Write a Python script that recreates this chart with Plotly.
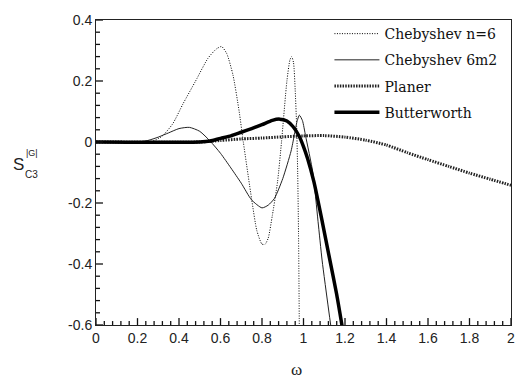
import plotly.graph_objects as go

# ---------------- data ----------------
cheb6_w = [0, 0.2, 0.27, 0.32, 0.37, 0.42, 0.48, 0.54, 0.58, 0.605, 0.63, 0.66, 0.69, 0.71,
           0.75, 0.775, 0.80, 0.815, 0.83, 0.85, 0.875, 0.894, 0.92, 0.935, 0.943, 0.952,
           0.96, 0.967, 0.972, 0.976, 0.98]
cheb6_v = [0, 0, 0.002, 0.02, 0.06, 0.126, 0.2, 0.275, 0.305, 0.313, 0.29, 0.22, 0.10, 0.0,
           -0.187, -0.29, -0.335, -0.335, -0.315, -0.24, -0.13, 0.0, 0.2, 0.27, 0.28, 0.26,
           0.17, 0.05, -0.1, -0.3, -0.62]

cheb6m2_w = [0, 0.2, 0.25, 0.3, 0.35, 0.4, 0.45, 0.5, 0.55, 0.6, 0.65, 0.7, 0.75, 0.8, 0.83,
             0.86, 0.9, 0.94, 0.955, 0.968, 0.98, 0.995, 1.01, 1.045, 1.07, 1.09, 1.135]
cheb6m2_v = [0, 0, 0.005, 0.016, 0.03, 0.044, 0.048, 0.035, 0.003, -0.037, -0.085, -0.135,
             -0.19, -0.216, -0.207, -0.185, -0.12, -0.03, 0.02, 0.065, 0.088, 0.07, 0.02,
             -0.1, -0.26, -0.39, -0.62]

planer_w = [0, 0.5, 0.6, 0.7, 0.8, 0.9, 1.0, 1.1, 1.2, 1.3, 1.4, 1.5, 1.6, 1.7, 1.8, 1.9, 2.0]
planer_v = [0, 0, 0.005, 0.01, 0.013, 0.017, 0.02, 0.021, 0.016, 0.006, -0.01, -0.035,
            -0.058, -0.08, -0.102, -0.122, -0.142]

butter_w = [0, 0.5, 0.55, 0.6, 0.65, 0.7, 0.75, 0.8, 0.85, 0.885, 0.92, 0.95, 0.98, 1.0,
            1.02, 1.05, 1.09, 1.125, 1.16, 1.19]
butter_v = [0, 0, 0.003, 0.012, 0.02, 0.032, 0.044, 0.057, 0.071, 0.075, 0.069, 0.05, 0.018,
            -0.015, -0.055, -0.13, -0.26, -0.38, -0.5, -0.62]

x_ticks = [0, 0.2, 0.4, 0.6, 0.8, 1, 1.2, 1.4, 1.6, 1.8, 2]
x_labels = ["0", "0.2", "0.4", "0.6", "0.8", "1", "1.2", "1.4", "1.6", "1.8", "2"]
y_ticks = [-0.6, -0.4, -0.2, 0, 0.2, 0.4]
y_labels = ["-0.6", "-0.4", "-0.2", "0", "0.2", "0.4"]
x_minor = [round(i * 0.04, 2) for i in range(51)]
y_minor = [round(-0.6 + i * 0.04, 2) for i in range(26)]

X_MIN, X_MAX = 0, 2
Y_MIN, Y_MAX = -0.6, 0.4

# ---------------- figure ----------------
W, H = 527, 383
L, R, T, B = 96, 15, 15, 58
PW, PH = W - L - R, H - T - B

fig = go.Figure()
fig.add_trace(go.Scatter(x=cheb6_w, y=cheb6_v, name="Chebyshev n=6", mode="lines",
                         line=dict(color="#000000", width=1, dash="1px,1.5px", shape="spline", smoothing=0.6),
                         legendgroup="a"))
fig.add_trace(go.Scatter(x=cheb6m2_w, y=cheb6m2_v, name="Chebyshev 6m2", mode="lines",
                         line=dict(color="#222222", width=1, shape="spline", smoothing=0.6),
                         legendgroup="b"))
fig.add_trace(go.Scatter(x=planer_w, y=planer_v, name="Planer", mode="lines",
                         line=dict(color="#222222", width=3, dash="1.5px,1.2px", shape="spline", smoothing=0.6),
                         legendgroup="c"))
fig.add_trace(go.Scatter(x=butter_w, y=butter_v, name="Butterworth", mode="lines",
                         line=dict(color="#000000", width=3.5, shape="spline", smoothing=0.6),
                         legendgroup="d"))


def px_x(p):
    return (p - L) / PW


def px_y(p):
    return (H - B - p) / PH


tick_font = dict(family="Liberation Sans, Arial", size=14, color="#222222")

fig.update_layout(
    xaxis=dict(range=[X_MIN, X_MAX], tickmode="array", tickvals=x_ticks, ticktext=x_labels,
               showgrid=False, zeroline=False, showline=True, linecolor="#222222",
               linewidth=1, mirror=True, ticks="", tickfont=tick_font),
    yaxis=dict(range=[Y_MIN, Y_MAX], tickmode="array", tickvals=y_ticks, ticktext=y_labels,
               showgrid=False, zeroline=False, showline=True, linecolor="#222222",
               linewidth=1, mirror=True, ticks="", tickfont=tick_font),
)

# inward tick marks: x position from the data scale, length as a fraction of the plot area
tick_line = dict(color="#111111", width=1.3)
shapes = []
for v in x_minor:
    ln = 7 if any(abs(v - t) < 1e-9 for t in x_ticks) else 4
    shapes.append(dict(type="line", xref="x", yref="paper",
                       x0=v, x1=v, y0=0, y1=ln / PH, line=tick_line, layer="above"))
for v in y_minor:
    ln = 7 if any(abs(v - t) < 1e-9 for t in y_ticks) else 4
    shapes.append(dict(type="line", xref="paper", yref="y",
                       x0=0, x1=ln / PW, y0=v, y1=v, line=tick_line, layer="above"))

annotations = [
    dict(x=px_x(297), y=px_y(370), text="ω", showarrow=False, xref="paper", yref="paper",
         xanchor="center", yanchor="middle",
         font=dict(family="Liberation Serif", size=17, color="#222222")),
    dict(x=px_x(18), y=px_y(162), text="S", showarrow=False, xref="paper", yref="paper",
         xanchor="center", yanchor="middle",
         font=dict(family="Liberation Sans, Arial", size=17, color="#222222")),
    dict(x=px_x(32), y=px_y(150), text="|G|", showarrow=False, xref="paper", yref="paper",
         xanchor="center", yanchor="middle",
         font=dict(family="Liberation Sans, Arial", size=9, color="#222222")),
    dict(x=px_x(31), y=px_y(172), text="C3", showarrow=False, xref="paper", yref="paper",
         xanchor="center", yanchor="middle",
         font=dict(family="Liberation Sans, Arial", size=10, color="#222222")),
]

fig.update_layout(
    width=W, height=H,
    margin=dict(l=L, r=R, t=T, b=B),
    paper_bgcolor="white", plot_bgcolor="white",
    annotations=annotations,
    shapes=shapes,
    showlegend=True,
    legend=dict(x=px_x(330), y=px_y(13), xanchor="left", yanchor="top",
                bgcolor="rgba(0,0,0,0)", borderwidth=0,
                traceorder="grouped", tracegroupgap=5, itemwidth=45,
                font=dict(family="DejaVu Serif", size=14, color="#111111")),
)

fig.write_html("out.html")
